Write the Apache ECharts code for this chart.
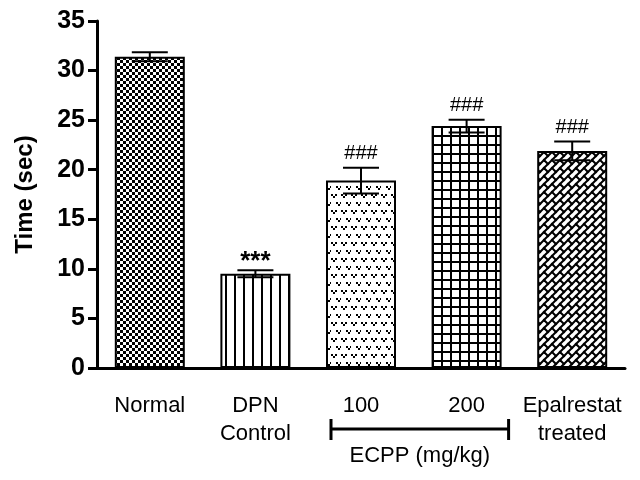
<!DOCTYPE html>
<html>
<head>
<meta charset="utf-8">
<script src="https://cdn.jsdelivr.net/npm/echarts@6/dist/echarts.min.js"></script>
<style>
  html, body { margin: 0; padding: 0; background: #fff; }
  #chart { width: 640px; height: 480px; }
</style>
</head>
<body>
<div id="chart"></div>
<script>
// data
var groups = ['Normal', 'DPN\nControl', '100', '200', 'Epalrestat\ntreated'];
var means = [31.4, 9.5, 18.9, 24.4, 21.9];
var sems = [0.45, 0.35, 1.3, 0.65, 0.95];
var marks = ['', '***', '###', '###', '###'];
var yTicks = { min: 0, max: 35, step: 5 };
var doseGroup = { from: 2, to: 3, label: 'ECPP (mg/kg)' };

var FONT = '"Liberation Sans", Arial, sans-serif';

function makeTile(w, h, draw) {
  var c = document.createElement('canvas');
  c.width = w; c.height = h;
  var ctx = c.getContext('2d');
  ctx.fillStyle = '#fff';
  ctx.fillRect(0, 0, w, h);
  ctx.fillStyle = '#000';
  ctx.strokeStyle = '#000';
  draw(ctx, w, h);
  return { image: c, repeat: 'repeat' };
}

// one hatch per bar
var patterns = [
  makeTile(6, 6, function (ctx) {          // checkerboard
    ctx.fillRect(0, 0, 3, 3);
    ctx.fillRect(3, 3, 3, 3);
  }),
  makeTile(9, 9, function (ctx) {          // vertical lines
    ctx.fillRect(0, 0, 2, 9);
  }),
  makeTile(10, 16, function (ctx) {        // little v's
    function v(x, y) {
      ctx.fillRect(x, y, 2, 2);
      ctx.fillRect(x + 4, y, 2, 2);
      ctx.fillRect(x + 2, y + 2, 2, 2);
    }
    v(1, 2);
    v(6, 10);
    ctx.fillRect(0, 10, 1, 2);
  }),
  makeTile(9, 9, function (ctx) {          // square grid
    ctx.fillRect(0, 0, 2, 9);
    ctx.fillRect(0, 0, 9, 2);
  }),
  makeTile(16, 16, function (ctx) {        // diagonal bricks
    ctx.lineWidth = 2;
    ctx.lineCap = 'square';
    var segs = [[0, 0, 4, 4], [8, -8, 12, -4], [8, 0, 12, 4], [16, -8, 20, -4]];
    for (var ox = -16; ox <= 16; ox += 16) {
      for (var oy = -16; oy <= 16; oy += 16) {
        segs.forEach(function (s) {
          ctx.beginPath();
          ctx.moveTo(s[0] + ox, s[1] + oy);
          ctx.lineTo(s[2] + ox, s[3] + oy);
          ctx.stroke();
        });
      }
    }
    for (var k = -2; k <= 5; k++) {
      ctx.beginPath();
      ctx.moveTo(k * 8 - 16, 16);
      ctx.lineTo(k * 8, 0);
      ctx.moveTo(k * 8, 0);
      ctx.lineTo(k * 8 + 16, -16);
      ctx.stroke();
    }
  })
];

var chart = echarts.init(document.getElementById('chart'), null, { renderer: 'canvas' });

var option = {
  animation: false,
  backgroundColor: '#fff',
  grid: { left: 97, right: 15, top: 21, bottom: 112, containLabel: false },
  xAxis: {
    type: 'category',
    data: groups,
    axisLine: { lineStyle: { color: '#000', width: 3 } },
    axisTick: { alignWithLabel: true, length: 11, lineStyle: { color: '#000', width: 3 } },
    axisLabel: {
      color: '#000', fontFamily: FONT, fontSize: 22, lineHeight: 28, margin: 24,
      interval: 0
    }
  },
  yAxis: {
    type: 'value',
    min: yTicks.min, max: yTicks.max, interval: yTicks.step,
    name: 'Time (sec)',
    nameLocation: 'middle',
    nameGap: 60,
    nameTextStyle: { color: '#000', fontFamily: FONT, fontSize: 24, fontWeight: 'bold' },
    axisLine: { show: true, lineStyle: { color: '#000', width: 3 } },
    axisTick: { show: true, length: 9, lineStyle: { color: '#000', width: 3 } },
    axisLabel: { color: '#000', fontFamily: FONT, fontSize: 25, fontWeight: 'bold', margin: 12 },
    splitLine: { show: false }
  },
  series: [
    {
      type: 'bar',
      barWidth: 70,
      data: means.map(function (v, i) {
        return { value: v, itemStyle: { color: patterns[i] } };
      }),
      itemStyle: { borderColor: '#000', borderWidth: 2 }
    },
    {
      type: 'custom',
      data: means.map(function (v, i) { return [i, v, sems[i]]; }),
      encode: { x: 0, y: 1 },
      z: 5,
      renderItem: function (params, api) {
        var i = api.value(0), m = api.value(1), e = api.value(2);
        var top = api.coord([i, m + e]);
        var bot = api.coord([i, m - e]);
        var half = 18;
        var st = { stroke: '#000', lineWidth: 2 };
        var kids = [
          { type: 'line', shape: { x1: top[0], y1: top[1], x2: bot[0], y2: bot[1] }, style: st },
          { type: 'line', shape: { x1: top[0] - half, y1: top[1], x2: top[0] + half, y2: top[1] }, style: st },
          { type: 'line', shape: { x1: bot[0] - half, y1: bot[1], x2: bot[0] + half, y2: bot[1] }, style: st }
        ];
        if (marks[i]) {
          var star = marks[i].charAt(0) === '*';
          kids.push({
            type: 'text', x: top[0], y: top[1] + (star ? 4 : -4),
            style: {
              text: marks[i], fill: '#000', align: 'center', verticalAlign: 'bottom',
              font: star ? 'bold 26px ' + FONT : '20px ' + FONT
            }
          });
        }
        return { type: 'group', children: kids };
      }
    }
  ]
};

chart.setOption(option);

// bracket under the two ECPP doses
var p1 = chart.convertToPixel({ xAxisIndex: 0 }, doseGroup.from);
var p2 = chart.convertToPixel({ xAxisIndex: 0 }, doseGroup.to);
var y0 = chart.convertToPixel({ yAxisIndex: 0 }, 0);
var bx1 = p1 - 30, bx2 = p2 + 42, by = y0 + 61;
chart.setOption({
  graphic: [
    { type: 'line', shape: { x1: bx1, y1: by, x2: bx2, y2: by }, style: { stroke: '#000', lineWidth: 3 } },
    { type: 'line', shape: { x1: bx1, y1: by - 10, x2: bx1, y2: by + 11 }, style: { stroke: '#000', lineWidth: 3 } },
    { type: 'line', shape: { x1: bx2, y1: by - 10, x2: bx2, y2: by + 11 }, style: { stroke: '#000', lineWidth: 3 } },
    {
      type: 'text', x: (bx1 + bx2) / 2, y: by + 27,
      style: { text: doseGroup.label, fill: '#000', align: 'center', verticalAlign: 'middle', font: '22px ' + FONT }
    }
  ]
});
</script>
</body>
</html>
